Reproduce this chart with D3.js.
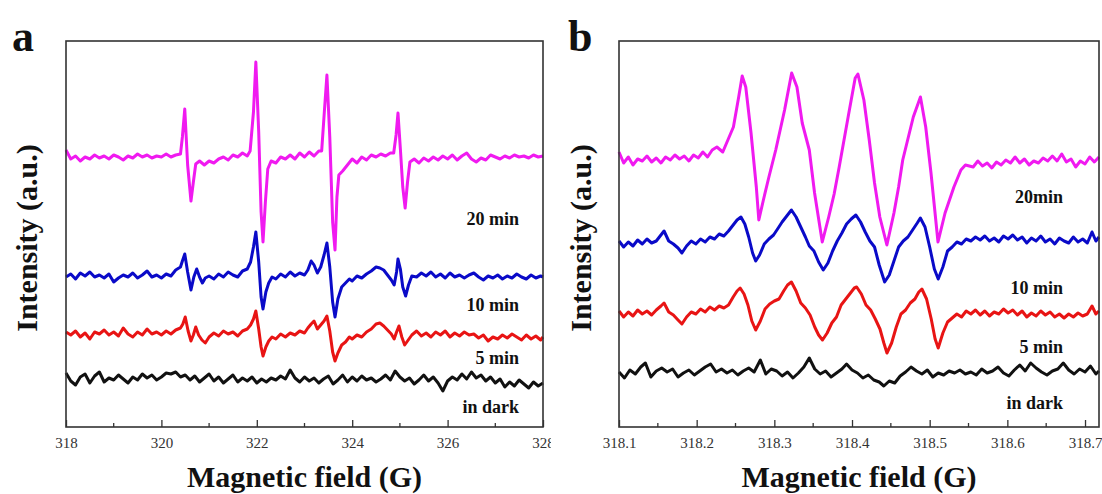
<!DOCTYPE html>
<html>
<head>
<meta charset="utf-8">
<script src="https://cdn.jsdelivr.net/npm/d3@7"></script>
<style>
  html, body { margin: 0; padding: 0; background: #fff; }
  svg { display: block; }
  .tick text { font-family: "Liberation Serif", "Times New Roman", serif; font-size: 15px; fill: #333; }
  .tick line { stroke: #333; stroke-width: 1.3; }
  .title { font-family: "Liberation Serif", "Times New Roman", serif; font-weight: bold; fill: #111; }
</style>
</head>
<body>
<div id="chart"></div>
<script>
window.addEventListener('DOMContentLoaded', () => {

    // =================================================================
    // DATA  (field in G, intensity in a.u.)
    // =================================================================
    const fieldTicksA = [318, 320, 322, 324, 326, 328];
    const fieldTicksB = [318.1, 318.2, 318.3, 318.4, 318.5, 318.6, 318.7];
    const seriesNames = ["20 min", "10 min", "5 min", "in dark"];
    const seriesNamesB = ["20min", "10 min", "5 min", "in dark"];
    const seriesColors = ["#f01af0", "#0a0ac8", "#e81414", "#111111"];

    // panel a : 318 - 328 G
    const magentaA = [
        [318.0,277],[318.1,268],[318.2,271],[318.3,266],[318.4,270],[318.5,268],[318.6,272],[318.7,269],[318.8,271],[318.9,268],
        [319.0,272],[319.1,270],[319.2,267],[319.3,271],[319.4,269],[319.5,273],[319.6,270],[319.7,272],[319.8,269],[319.9,271],
        [320.0,270],[320.1,273],[320.2,270],[320.3,272],[320.4,273],[320.44,290],[320.49,318],[320.55,262],[320.62,226],[320.67,245],
        [320.72,263],[320.8,266],[320.9,262],[321.0,266],[321.1,264],[321.2,268],[321.3,270],[321.4,267],[321.5,272],[321.6,270],
        [321.7,274],[321.8,271],[321.86,276],[321.93,315],[321.98,365],[322.04,295],[322.09,215],[322.13,185],[322.18,225],[322.23,258],
        [322.3,266],[322.4,264],[322.5,270],[322.6,268],[322.7,272],[322.8,268],[322.9,274],[323.0,270],[323.1,275],[323.2,271],
        [323.3,276],[323.36,276],[323.42,318],[323.47,352],[323.53,290],[323.59,205],[323.64,177],[323.68,230],[323.72,252],[323.8,256],
        [323.9,262],[324.0,268],[324.1,264],[324.2,270],[324.3,267],[324.4,272],[324.5,270],[324.6,273],[324.7,271],[324.8,274],
        [324.87,274],[324.92,292],[324.96,314],[325.01,278],[325.06,240],[325.11,219],[325.16,245],[325.21,265],[325.3,268],[325.4,264],
        [325.5,269],[325.6,266],[325.7,270],[325.8,267],[325.9,271],[326.0,268],[326.1,272],[326.2,267],[326.3,271],[326.4,274],
        [326.5,268],[326.6,265],[326.7,269],[326.8,267],[326.9,272],[327.0,270],[327.1,268],[327.2,271],[327.3,269],[327.4,272],
        [327.5,270],[327.6,271],[327.7,269],[327.8,272],[327.9,270],[328.0,271]
    ];
    const blueA = [
        [318.0,150],[318.1,153],[318.2,148],[318.3,154],[318.4,151],[318.5,155],[318.6,150],[318.7,152],[318.8,149],[318.9,153],
        [319.0,145],[319.1,149],[319.2,152],[319.3,150],[319.4,154],[319.5,149],[319.6,152],[319.7,156],[319.8,150],[319.9,152],
        [320.0,149],[320.1,153],[320.2,151],[320.3,157],[320.4,160],[320.44,166],[320.49,173],[320.55,155],[320.62,137],[320.68,150],
        [320.74,158],[320.8,150],[320.86,144],[320.92,149],[321.0,151],[321.1,148],[321.2,153],[321.3,150],[321.4,155],[321.5,152],
        [321.6,150],[321.7,156],[321.8,158],[321.87,165],[321.93,180],[321.98,195],[322.04,165],[322.09,130],[322.13,118],[322.19,135],
        [322.25,144],[322.32,150],[322.4,148],[322.5,153],[322.6,150],[322.7,155],[322.8,151],[322.9,154],[323.0,152],[323.07,157],
        [323.14,166],[323.2,162],[323.27,154],[323.34,160],[323.41,172],[323.47,184],[323.53,160],[323.59,125],[323.64,110],[323.7,128],
        [323.78,140],[323.86,144],[323.94,148],[324.0,146],[324.1,151],[324.2,149],[324.3,153],[324.4,156],[324.5,160],[324.58,159],
        [324.66,157],[324.74,152],[324.82,147],[324.88,142],[324.93,155],[324.96,168],[325.01,158],[325.06,140],[325.12,131],[325.18,142],
        [325.25,151],[325.35,150],[325.45,154],[325.55,151],[325.65,155],[325.75,150],[325.85,153],[325.95,149],[326.05,154],[326.15,150],
        [326.25,152],[326.35,149],[326.45,152],[326.55,154],[326.65,150],[326.75,147],[326.85,151],[326.95,149],[327.05,152],[327.15,148],
        [327.25,151],[327.35,149],[327.45,153],[327.55,150],[327.65,148],[327.75,152],[327.85,149],[327.95,151],[328.0,150]
    ];
    const redA = [
        [318.0,95],[318.1,92],[318.2,96],[318.3,90],[318.4,94],[318.5,88],[318.6,95],[318.7,93],[318.8,97],[318.9,92],
        [319.0,95],[319.1,91],[319.2,99],[319.3,93],[319.4,90],[319.5,95],[319.6,92],[319.7,98],[319.8,93],[319.9,95],
        [320.0,92],[320.1,96],[320.2,93],[320.3,97],[320.4,99],[320.45,103],[320.5,110],[320.56,96],[320.62,86],[320.67,92],
        [320.72,100],[320.78,92],[320.85,87],[320.92,84],[321.0,90],[321.1,94],[321.2,91],[321.3,96],[321.4,93],[321.5,95],
        [321.6,91],[321.7,96],[321.8,98],[321.87,102],[321.93,108],[321.98,116],[322.04,98],[322.09,80],[322.13,71],[322.19,80],
        [322.25,86],[322.32,90],[322.4,88],[322.5,93],[322.6,90],[322.7,94],[322.8,92],[322.9,96],[323.0,94],[323.07,99],
        [323.14,103],[323.2,106],[323.27,98],[323.34,102],[323.41,106],[323.47,111],[323.53,96],[323.59,75],[323.64,66],[323.7,74],
        [323.78,82],[323.86,85],[323.94,90],[324.0,88],[324.1,92],[324.2,90],[324.3,95],[324.4,98],[324.5,103],[324.58,104],
        [324.66,101],[324.74,97],[324.82,93],[324.88,88],[324.93,95],[324.98,101],[325.04,90],[325.1,82],[325.16,86],[325.25,92],
        [325.35,96],[325.45,91],[325.55,94],[325.65,90],[325.75,95],[325.85,92],[325.95,96],[326.05,90],[326.15,94],[326.25,91],
        [326.35,95],[326.45,92],[326.55,93],[326.65,89],[326.75,92],[326.85,86],[326.95,90],[327.05,88],[327.15,92],[327.25,89],
        [327.35,93],[327.45,90],[327.55,87],[327.65,92],[327.75,88],[327.85,91],[327.95,87],[328.0,90]
    ];
    const blackA = [
        [318.0,54],[318.1,46],[318.2,42],[318.3,50],[318.4,53],[318.5,44],[318.6,51],[318.7,55],[318.8,45],[318.9,49],
        [319.0,47],[319.1,52],[319.2,48],[319.3,44],[319.4,50],[319.5,47],[319.6,53],[319.7,49],[319.8,52],[319.9,47],
        [320.0,50],[320.1,54],[320.2,53],[320.3,55],[320.4,50],[320.5,52],[320.6,47],[320.7,51],[320.8,45],[320.9,49],
        [321.0,53],[321.1,46],[321.2,50],[321.3,44],[321.4,48],[321.5,52],[321.6,45],[321.7,49],[321.8,46],[321.9,50],
        [322.0,44],[322.1,48],[322.2,45],[322.3,49],[322.4,47],[322.5,51],[322.6,48],[322.7,57],[322.8,49],[322.9,45],
        [323.0,50],[323.1,46],[323.2,49],[323.3,44],[323.4,48],[323.5,51],[323.6,43],[323.7,47],[323.8,52],[323.9,45],
        [324.0,50],[324.1,46],[324.2,51],[324.3,47],[324.4,49],[324.5,45],[324.6,48],[324.7,52],[324.8,47],[324.9,56],
        [325.0,50],[325.1,46],[325.2,49],[325.3,43],[325.4,47],[325.5,52],[325.6,46],[325.7,50],[325.8,44],[325.9,36],
        [326.0,46],[326.1,50],[326.2,47],[326.3,53],[326.4,48],[326.5,55],[326.6,49],[326.7,52],[326.8,46],[326.9,50],
        [327.0,44],[327.1,48],[327.2,40],[327.3,45],[327.4,41],[327.5,47],[327.6,43],[327.7,39],[327.8,45],[327.9,41],[328.0,44]
    ];

    // panel b : 318.1 - 318.72 G
    const magentaB = [
        [318.100,275],[318.106,264],[318.112,270],[318.118,262],[318.124,268],[318.130,266],[318.136,271],[318.142,265],[318.148,269],[318.154,264],
        [318.160,270],[318.166,267],[318.172,272],[318.178,268],[318.184,271],[318.190,266],[318.196,272],[318.202,269],[318.208,275],[318.214,270],
        [318.220,277],[318.226,280],[318.2336,275],[318.2473,300],[318.2541,330],[318.2586,351],[318.2632,340],[318.2700,294],[318.2768,240],[318.2800,207],
        [318.2859,227],[318.293,250],[318.3018,277],[318.3132,317],[318.3223,354],[318.3291,340],[318.3359,304],[318.3450,277],[318.3518,234],[318.3617,185],
        [318.3700,210],[318.377,233],[318.3835,260],[318.3950,310],[318.4041,349],[318.4076,353],[318.4153,327],[318.4222,287],[318.4290,244],[318.4358,210],
        [318.4449,182],[318.4540,214],[318.460,240],[318.4653,267],[318.4789,310],[318.4881,330],[318.4949,300],[318.5017,254],[318.5107,185],[318.5198,214],
        [318.5312,240],[318.5402,257],[318.546,262],[318.556,260],[318.562,266],[318.568,261],[318.574,264],[318.580,259],[318.586,265],[318.592,262],
        [318.598,267],[318.604,264],[318.610,270],[318.616,264],[318.622,268],[318.628,262],[318.634,266],[318.640,264],[318.646,269],[318.652,266],
        [318.658,271],[318.664,266],[318.670,273],[318.676,265],[318.682,268],[318.688,260],[318.694,266],[318.700,263],[318.706,270],[318.712,265],[318.718,270]
    ];
    const blueB = [
        [318.100,186],[318.106,180],[318.112,185],[318.118,181],[318.124,187],[318.130,183],[318.136,188],[318.142,184],[318.148,186],[318.154,192],
        [318.158,196],[318.164,186],[318.170,183],[318.176,179],[318.181,174],[318.187,181],[318.193,186],[318.199,183],[318.205,188],[318.211,185],
        [318.217,190],[318.223,188],[318.229,193],[318.235,191],[318.241,196],[318.247,202],[318.252,207],[318.257,210],[318.262,203],[318.267,190],
        [318.272,174],[318.276,166],[318.281,172],[318.287,183],[318.293,188],[318.299,192],[318.305,199],[318.310,205],[318.316,211],[318.322,217],
        [318.328,210],[318.334,200],[318.340,190],[318.345,181],[318.351,176],[318.357,165],[318.363,157],[318.369,164],[318.375,176],[318.381,186],
        [318.387,194],[318.393,203],[318.399,208],[318.405,212],[318.411,205],[318.417,195],[318.423,186],[318.429,180],[318.435,162],[318.442,145],
        [318.448,152],[318.454,166],[318.460,180],[318.466,186],[318.472,190],[318.478,197],[318.484,204],[318.488,209],[318.494,200],[318.500,180],
        [318.506,158],[318.511,148],[318.517,160],[318.523,176],[318.529,180],[318.535,185],[318.541,183],[318.547,188],[318.553,186],[318.559,190],
        [318.565,187],[318.571,191],[318.577,186],[318.583,189],[318.589,185],[318.595,191],[318.601,188],[318.607,192],[318.613,187],[318.619,190],
        [318.625,184],[318.631,189],[318.637,186],[318.643,191],[318.649,185],[318.655,188],[318.661,183],[318.667,189],[318.673,186],[318.679,184],
        [318.685,190],[318.691,185],[318.697,188],[318.703,184],[318.709,195],[318.714,186],[318.718,190]
    ];
    const redB = [
        [318.100,116],[318.106,110],[318.112,115],[318.118,111],[318.124,117],[318.130,113],[318.136,116],[318.142,112],[318.148,117],[318.154,121],
        [318.158,124],[318.164,115],[318.170,112],[318.176,107],[318.181,103],[318.187,110],[318.193,115],[318.199,113],[318.205,118],[318.211,115],
        [318.217,120],[318.223,117],[318.229,121],[318.235,119],[318.241,122],[318.247,130],[318.252,136],[318.256,139],[318.261,133],[318.266,122],
        [318.271,106],[318.276,97],[318.282,106],[318.288,118],[318.294,123],[318.300,126],[318.306,128],[318.312,136],[318.317,142],[318.322,145],
        [318.328,136],[318.334,124],[318.340,119],[318.346,112],[318.352,100],[318.357,92],[318.362,87],[318.368,94],[318.374,104],[318.380,110],
        [318.386,122],[318.392,128],[318.398,134],[318.403,139],[318.406,140],[318.412,133],[318.418,122],[318.424,117],[318.430,108],[318.436,98],
        [318.441,84],[318.445,74],[318.451,84],[318.457,100],[318.463,113],[318.469,117],[318.475,124],[318.481,128],[318.486,135],[318.490,138],
        [318.496,128],[318.502,108],[318.507,88],[318.511,79],[318.517,94],[318.523,105],[318.529,109],[318.535,113],[318.541,110],[318.547,116],
        [318.553,113],[318.559,117],[318.565,112],[318.571,116],[318.577,111],[318.583,115],[318.589,113],[318.595,118],[318.601,114],[318.607,117],
        [318.613,112],[318.619,116],[318.625,110],[318.631,114],[318.637,111],[318.643,116],[318.649,112],[318.655,115],[318.661,110],[318.667,113],
        [318.673,109],[318.679,113],[318.685,110],[318.691,114],[318.697,111],[318.703,113],[318.709,121],[318.714,113],[318.718,116]
    ];
    const blackB = [
        [318.100,55],[318.107,49],[318.114,57],[318.121,53],[318.128,60],[318.134,64],[318.141,50],[318.148,56],[318.155,59],[318.162,55],
        [318.169,58],[318.176,50],[318.183,54],[318.190,57],[318.197,52],[318.204,56],[318.211,60],[318.218,63],[318.225,55],[318.232,58],
        [318.239,54],[318.246,57],[318.253,52],[318.260,56],[318.267,59],[318.274,55],[318.282,67],[318.289,53],[318.296,58],[318.303,56],
        [318.310,51],[318.317,55],[318.324,49],[318.331,54],[318.338,60],[318.345,69],[318.352,58],[318.359,53],[318.366,56],[318.373,50],
        [318.380,54],[318.387,58],[318.393,63],[318.400,57],[318.407,54],[318.414,49],[318.421,52],[318.428,47],[318.435,45],[318.441,41],
        [318.448,46],[318.455,44],[318.462,51],[318.469,55],[318.476,60],[318.483,56],[318.490,53],[318.497,57],[318.504,50],[318.511,54],
        [318.518,52],[318.525,56],[318.532,54],[318.539,57],[318.546,53],[318.553,55],[318.560,52],[318.567,58],[318.574,54],[318.581,56],
        [318.588,60],[318.595,54],[318.602,51],[318.609,57],[318.616,62],[318.623,56],[318.630,64],[318.637,59],[318.644,55],[318.651,52],
        [318.658,56],[318.665,58],[318.672,64],[318.679,57],[318.686,53],[318.693,58],[318.700,55],[318.707,61],[318.714,53],[318.718,56]
    ];

    // =================================================================
    // LAYOUT
    // =================================================================
    const width = 1102, height = 494;
    const top = 41, bottom = 427;
    const panels = [
        { id: "a", left: 66, right: 543, domain: [318, 328], ticks: fieldTicksA, minor: 1, fmt: d3.format("d"),
          series: [magentaA, blueA, redA, blackA], names: seriesNames,
          labelX: 519, labelY: [225, 311, 364, 413], yTitleX: 37, letterX: 12, clip: 551 },
        { id: "b", left: 619, right: 1099, domain: [318.1, 318.718], ticks: fieldTicksB, minor: 0.05, fmt: d3.format(".1f"),
          series: [magentaB, blueB, redB, blackB], names: seriesNamesB,
          labelX: 1063, labelY: [203, 294, 353, 409], yTitleX: 591, letterX: 568, clip: width }
    ];

    const svg = d3.select("#chart").append("svg")
        .attr("width", width)
        .attr("height", height);

    const y = d3.scaleLinear().domain([0, 386]).range([bottom, top]);

    panels.forEach(p => {
        const x = d3.scaleLinear().domain(p.domain).range([p.left, p.right]);

        svg.append("clipPath").attr("id", "clip-" + p.id)
            .append("rect").attr("x", p.left - 60).attr("y", 0)
            .attr("width", p.clip - p.left + 60).attr("height", height);

        const g = svg.append("g").attr("clip-path", `url(#clip-${p.id})`);

        // minor ticks (inward)
        const minorTicks = d3.range(p.domain[0], p.domain[1] + 1e-9, p.minor)
            .filter(v => !p.ticks.some(t => Math.abs(t - v) < 1e-6));
        g.selectAll("line.minor")
            .data(minorTicks)
            .join("line")
            .attr("class", "minor")
            .attr("x1", d => x(d)).attr("x2", d => x(d))
            .attr("y1", bottom).attr("y2", bottom - 4)
            .attr("stroke", "#333").attr("stroke-width", 1.3);

        // major ticks + labels
        const axis = d3.axisBottom(x)
            .tickValues(p.ticks)
            .tickFormat(p.fmt)
            .tickSizeInner(-7)
            .tickSizeOuter(0)
            .tickPadding(10);
        const ax = g.append("g").attr("transform", `translate(0,${bottom})`).call(axis);
        ax.select(".domain").remove();
        ax.selectAll(".tick text").attr("font-family", null).attr("font-size", null);

        // spectra
        const line = d3.line().x(d => x(d[0])).y(d => y(d[1]));
        p.series.forEach((s, i) => {
            g.append("path")
                .datum(s)
                .attr("d", line)
                .attr("fill", "none")
                .attr("stroke", seriesColors[i])
                .attr("stroke-width", 3)
                .attr("stroke-linejoin", "round");
        });

        // frame
        g.append("rect")
            .attr("x", p.left).attr("y", top)
            .attr("width", p.right - p.left).attr("height", bottom - top)
            .attr("fill", "none").attr("stroke", "#333").attr("stroke-width", 1.6);

        // curve labels
        p.names.forEach((name, i) => {
            g.append("text")
                .attr("class", "title")
                .attr("x", p.labelX).attr("y", p.labelY[i])
                .attr("text-anchor", "end")
                .attr("font-size", 18)
                .text(name);
        });

        // axis titles
        svg.append("text")
            .attr("class", "title")
            .attr("x", (p.left + p.right) / 2).attr("y", 487)
            .attr("text-anchor", "middle")
            .attr("font-size", 30)
            .text("Magnetic field (G)");

        svg.append("text")
            .attr("class", "title")
            .attr("transform", `translate(${p.yTitleX},${(top + bottom) / 2 + 4}) rotate(-90)`)
            .attr("text-anchor", "middle")
            .attr("font-size", 30)
            .text("Intensity (a.u.)");

        // panel letter
        svg.append("text")
            .attr("class", "title")
            .attr("x", p.letterX).attr("y", 51)
            .attr("font-size", 44)
            .text(p.id);
    });

});
</script>
</body>
</html>
